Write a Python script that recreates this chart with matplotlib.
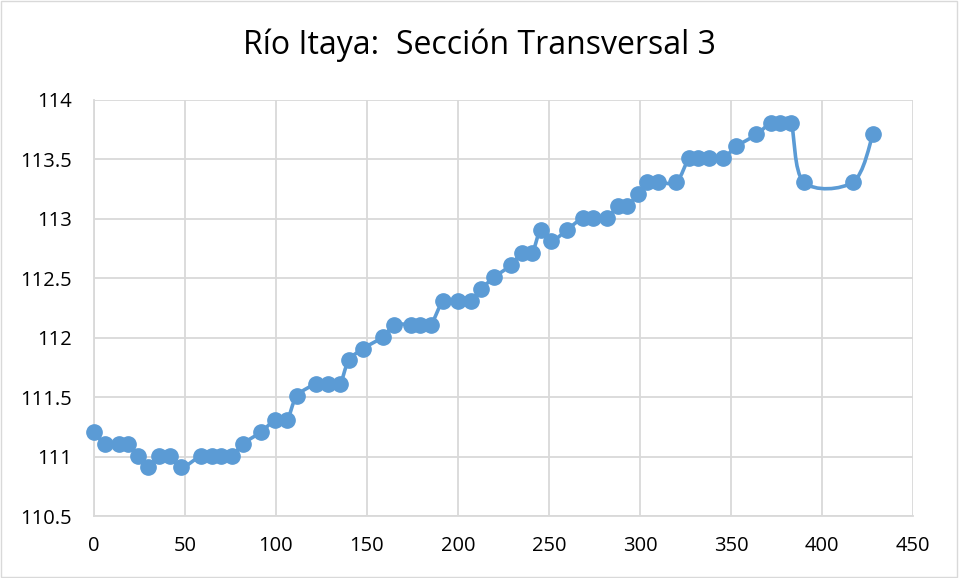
import matplotlib
matplotlib.use('Agg')
import matplotlib.pyplot as plt
from matplotlib.path import Path
from matplotlib.patches import PathPatch, Rectangle

plt.rcParams['font.family'] = ['Open Sans', 'DejaVu Sans']

# distancia (m) y cota (m)
distancia = [0, 6, 13.7, 18.7, 24, 29.7, 35.7, 42, 48, 59, 65, 70, 76, 82, 92,
             99.5, 106, 111.5, 122, 128.6, 135, 140, 148, 159, 165, 174, 179, 185,
             192, 200, 207, 212.6, 220, 229, 235, 240.6, 245.6, 251, 260, 268.7,
             274, 282, 288, 293, 299, 304, 310, 320, 327, 332, 338, 345.6, 353,
             364, 372, 377, 383, 390, 417, 428]
cota = [111.21, 111.11, 111.11, 111.11, 111.01, 110.91, 111.01, 111.01, 110.91,
        111.01, 111.01, 111.01, 111.01, 111.11, 111.21, 111.31, 111.31, 111.51,
        111.61, 111.61, 111.61, 111.81, 111.91, 112.01, 112.11, 112.11, 112.11,
        112.11, 112.31, 112.31, 112.31, 112.41, 112.51, 112.61, 112.71, 112.71,
        112.91, 112.81, 112.91, 113.01, 113.01, 113.01, 113.11, 113.11, 113.21,
        113.31, 113.31, 113.31, 113.51, 113.51, 113.51, 113.51, 113.61, 113.71,
        113.81, 113.81, 113.81, 113.31, 113.31, 113.71]

xticks = [0, 50, 100, 150, 200, 250, 300, 350, 400, 450]
yticks = [110.5, 111, 111.5, 112, 112.5, 113, 113.5, 114]

azul = '#5B9BD5'

fig = plt.figure(figsize=(9.59, 5.78), dpi=100)
ax = fig.add_axes([0.098, 0.107, 0.854, 0.720])

# linea suavizada tipo Excel (bezier con puntos de control de los vecinos)
n = len(distancia)
verts = [(distancia[0], cota[0])]
codes = [Path.MOVETO]
for i in range(n - 1):
    p0 = (distancia[max(i - 1, 0)], cota[max(i - 1, 0)])
    p1 = (distancia[i], cota[i])
    p2 = (distancia[i + 1], cota[i + 1])
    p3 = (distancia[min(i + 2, n - 1)], cota[min(i + 2, n - 1)])
    c1 = (p1[0] + (p2[0] - p0[0]) / 6, p1[1] + (p2[1] - p0[1]) / 6)
    c2 = (p2[0] - (p3[0] - p1[0]) / 6, p2[1] - (p3[1] - p1[1]) / 6)
    verts += [c1, c2, p2]
    codes += [Path.CURVE4] * 3
ax.add_patch(PathPatch(Path(verts, codes), facecolor='none', edgecolor=azul,
                       lw=2.6, zorder=3, capstyle='round', joinstyle='round'))
ax.plot(distancia, cota, 'o', color=azul, markersize=11, zorder=4, clip_on=False)

ax.set_xlim(0, 450)
ax.set_ylim(110.5, 114)
ax.set_xticks(xticks)
ax.set_yticks(yticks)
ax.set_xticklabels([str(t) for t in xticks])
ax.set_yticklabels(['110.5', '111', '111.5', '112', '112.5', '113', '113.5', '114'])
ax.grid(True, color='#D9D9D9', lw=1.3, zorder=0)
ax.set_axisbelow(True)
for s in ['top', 'right']:
    ax.spines[s].set_visible(False)
for s in ['left', 'bottom']:
    ax.spines[s].set_color('#D9D9D9')
    ax.spines[s].set_linewidth(1.3)
ax.tick_params(length=0, labelsize=14.5, colors='#000000')
ax.tick_params(axis='y', pad=16)
ax.tick_params(axis='x', pad=14)

fig.text(0.5, 0.922, 'Río Itaya:  Sección Transversal 3', ha='center', va='center',
         fontsize=23, color='#000000')

fig.patches.append(Rectangle((0.001, 0.002), 0.997, 0.996, transform=fig.transFigure,
                             fill=False, edgecolor='#D9D9D9', lw=1))

fig.savefig('out.png', dpi=100)
